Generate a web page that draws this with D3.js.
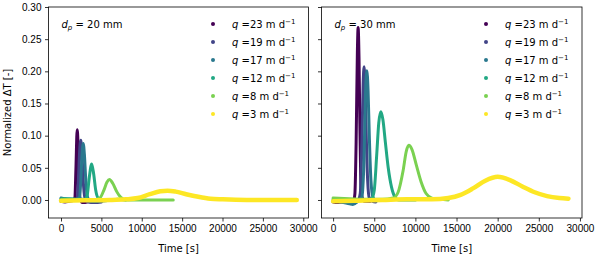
<!DOCTYPE html>
<html>
<head>
<meta charset="utf-8">
<script src="https://cdn.jsdelivr.net/npm/d3@7"></script>
<style>
  body { margin: 0; background: #fff; }
  svg { display: block; font-family: "DejaVu Sans", sans-serif; }
  .axis text { font-size: 10px; fill: #000; }
  .axis path, .axis line { stroke: #000; stroke-width: 0.8; }
</style>
</head>
<body>
<svg width="600" height="259"></svg>
<script>
// q values (m/d) and viridis colours, same order for both panels
let qValues = [23, 19, 17, 12, 8, 3];
let colors = ["#440154", "#414487", "#2a788e", "#22a884", "#7ad151", "#fde725"];
let xTicks = [0, 5000, 10000, 15000, 20000, 25000, 30000];
let yTicks = [0, 0.05, 0.10, 0.15, 0.20, 0.25, 0.30];

// [time s, normalized dT], d_p = 20 mm
let dp20_q23 = [[0, -0.002], [500, -0.003], [1000, -0.002], [1500, -0.001], [1720, 0.004], [1850, 0.05], [2000, 0.109], [2100, 0.09], [2200, 0.04], [2320, 0.005], [2600, -0.004], [3000, -0.004], [3500, -0.002], [4000, -0.002], [4500, -0.001]];
let dp20_q19 = [[0, 0.001], [500, -0.002], [1000, -0.001], [1500, 0], [2000, 0.002], [2150, 0.03], [2300, 0.075], [2450, 0.093], [2600, 0.07], [2750, 0.03], [2950, 0.004], [3300, -0.003], [3700, -0.004], [4200, -0.004], [5000, -0.003]];
let dp20_q17 = [[0, 0.003], [500, 0.002], [1000, 0.001], [1500, 0.001], [2000, 0.001], [2300, 0.005], [2450, 0.03], [2600, 0.07], [2750, 0.088], [2900, 0.07], [3050, 0.035], [3250, 0.006], [3600, -0.002], [4500, -0.002], [5500, -0.001], [6500, 0]];
let dp20_q12 = [[0, 0.002], [1000, 0.002], [2000, 0.001], [3000, 0.001], [3250, 0.008], [3500, 0.035], [3800, 0.056], [4050, 0.04], [4300, 0.015], [4600, 0.003], [5200, 0], [6000, 0], [7000, 0.001], [8000, 0]];
let dp20_q8 = [[0, 0], [2000, 0], [4000, 0], [4800, 0.003], [5300, 0.015], [5700, 0.028], [6000, 0.032], [6400, 0.026], [6900, 0.013], [7400, 0.004], [8000, 0], [10000, 0], [12000, 0], [13900, 0]];
let dp20_q3 = [[0, -0.001], [3000, -0.0005], [6000, 0], [8000, 0.001], [9500, 0.003], [11000, 0.009], [12300, 0.0135], [13200, 0.0145], [14200, 0.013], [15500, 0.009], [17000, 0.005], [18500, 0.002], [20000, 0.001], [23000, 0], [26000, 0], [29200, 0]];

// d_p = 30 mm
let dp30_q23 = [[0, -0.003], [500, -0.004], [1000, -0.003], [1500, -0.003], [2000, -0.002], [2500, -0.001], [2650, 0.01], [2800, 0.09], [2950, 0.23], [3040, 0.268], [3150, 0.22], [3250, 0.12], [3350, 0.04], [3500, 0.005], [3800, -0.002], [4500, -0.002]];
let dp30_q19 = [[0, -0.002], [1000, -0.003], [2000, -0.003], [2500, -0.005], [3000, -0.002], [3300, 0.01], [3500, 0.09], [3650, 0.18], [3770, 0.207], [3900, 0.17], [4050, 0.09], [4200, 0.03], [4400, 0.003], [4800, -0.002], [5200, -0.003]];
let dp30_q17 = [[0, -0.002], [1000, -0.003], [2000, -0.006], [2400, -0.007], [3000, -0.002], [3500, 0.005], [3750, 0.06], [3950, 0.17], [4100, 0.201], [4250, 0.17], [4400, 0.1], [4600, 0.03], [4850, 0.004], [5200, -0.001], [6000, 0]];
let dp30_q12 = [[0, 0.001], [1000, 0], [2000, 0], [3000, 0], [4000, 0], [4700, 0.002], [5000, 0.015], [5300, 0.07], [5550, 0.12], [5800, 0.137], [6050, 0.125], [6350, 0.09], [6700, 0.05], [7100, 0.02], [7500, 0.005], [8000, 0], [10000, 0]];
let dp30_q8 = [[0, 0.003], [2000, 0.002], [4000, 0.001], [6000, 0.001], [7300, 0.003], [7900, 0.012], [8500, 0.045], [8900, 0.076], [9200, 0.085], [9600, 0.078], [10100, 0.055], [10700, 0.028], [11300, 0.01], [12000, 0.003], [13000, 0.001], [14000, 0]];
let dp30_q3 = [[0, -0.002], [3000, -0.001], [6000, 0], [9000, 0.001], [12000, 0.001], [14000, 0.003], [15500, 0.008], [17000, 0.018], [18500, 0.030], [20000, 0.036], [21500, 0.031], [23000, 0.021], [24500, 0.012], [26000, 0.006], [27500, 0.003], [28600, 0.002]];

let svg = d3.select("svg");
let plotTop = 7, plotBottom = 218;

let panels = [
    {dp: "20", left: 48.5, right: 308.5, xDomain: [-1550, 30650], showY: true,
        series: [dp20_q23, dp20_q19, dp20_q17, dp20_q12, dp20_q8, dp20_q3], legendX: 213},
    {dp: "30", left: 321.5, right: 582, xDomain: [-1410, 30250], showY: false,
        series: [dp30_q23, dp30_q19, dp30_q17, dp30_q12, dp30_q8, dp30_q3], legendX: 486}
];

let y = d3.scaleLinear().domain([-0.028, 0.30]).range([plotBottom, plotTop]);

panels.forEach(function (p, i) {
    let x = d3.scaleLinear().domain(p.xDomain).range([p.left, p.right]);

    svg.append("defs").append("clipPath")
        .attr("id", "clip" + i)
        .append("rect")
        .attr("x", p.left).attr("y", plotTop)
        .attr("width", p.right - p.left).attr("height", plotBottom - plotTop);

    let line = d3.line()
        .curve(d3.curveMonotoneX)
        .x(function (d) { return x(d[0]); })
        .y(function (d) { return y(d[1]); });

    let plot = svg.append("g").attr("clip-path", "url(#clip" + i + ")");
    p.series.forEach(function (s, k) {
        plot.append("path")
            .datum(s)
            .attr("d", line)
            .attr("fill", "none")
            .attr("stroke", colors[k])
            .attr("stroke-width", k === 5 ? 4.5 : 3)
            .attr("stroke-linejoin", "round")
            .attr("stroke-linecap", "round");
    });

    // axes
    svg.append("g")
        .attr("class", "axis")
        .attr("transform", "translate(0," + plotBottom + ")")
        .call(d3.axisBottom(x).tickValues(xTicks).tickSize(3.5).tickPadding(3.5).tickFormat(d3.format("d")))
        .call(function (g) { g.select(".domain").remove(); });

    svg.append("g")
        .attr("class", "axis")
        .attr("transform", "translate(" + p.left + ",0)")
        .call(d3.axisLeft(y).tickValues(yTicks).tickSize(3.5).tickPadding(3.5)
            .tickFormat(p.showY ? d3.format(".2f") : ""))
        .call(function (g) { g.select(".domain").remove(); });

    svg.append("rect")
        .attr("x", p.left).attr("y", plotTop)
        .attr("width", p.right - p.left).attr("height", plotBottom - plotTop)
        .attr("fill", "none").attr("stroke", "#000").attr("stroke-width", 0.8);

    svg.append("text")
        .attr("x", (p.left + p.right) / 2).attr("y", 252)
        .attr("text-anchor", "middle")
        .attr("font-size", 10)
        .text("Time [s]");

    // panel label d_p = .. mm
    let t = svg.append("text")
        .attr("x", p.left + 13).attr("y", 27.5)
        .attr("font-size", 10);
    t.append("tspan").attr("font-style", "italic").text("d");
    t.append("tspan").attr("font-style", "italic").attr("font-size", 7).attr("dy", 2).text("p");
    t.append("tspan").attr("dy", -2).text(" = " + p.dp + " mm");

    // legend
    qValues.forEach(function (q, k) {
        let ly = 24 + k * 18;
        svg.append("circle")
            .attr("cx", p.legendX).attr("cy", ly).attr("r", 2)
            .attr("fill", colors[k]);
        let lt = svg.append("text")
            .attr("x", p.legendX + 19).attr("y", ly + 3.5)
            .attr("font-size", 10);
        lt.append("tspan").attr("font-style", "italic").text("q");
        lt.append("tspan").text(" =" + q + " m d");
        lt.append("tspan").attr("font-size", 7).attr("dy", -4).text("\u22121");
    });
});

svg.append("text")
    .attr("transform", "translate(11," + (plotTop + plotBottom) / 2 + ") rotate(-90)")
    .attr("text-anchor", "middle")
    .attr("font-size", 10)
    .text("Normalized \u0394T [-]");
</script>
</body>
</html>
